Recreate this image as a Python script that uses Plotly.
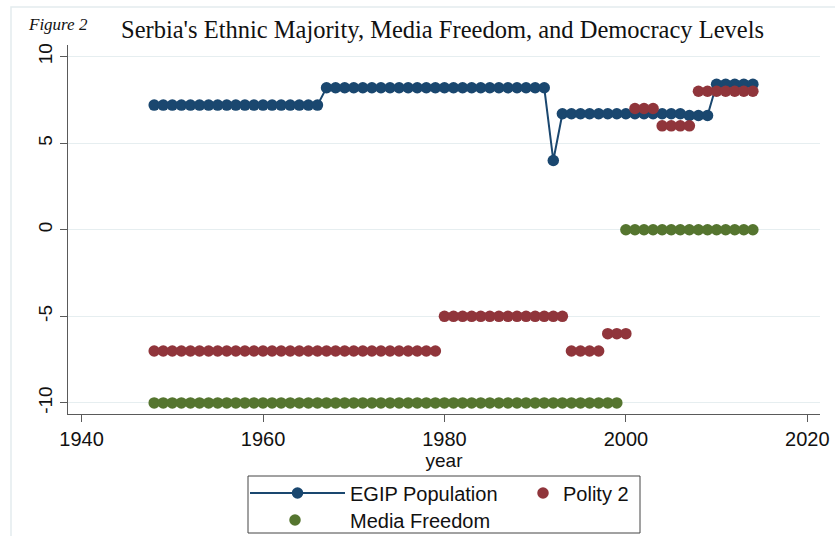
import plotly.graph_objects as go

# ---- data ----
years = [1948, 1949, 1950, 1951, 1952, 1953, 1954, 1955, 1956, 1957,
         1958, 1959, 1960, 1961, 1962, 1963, 1964, 1965, 1966, 1967,
         1968, 1969, 1970, 1971, 1972, 1973, 1974, 1975, 1976, 1977,
         1978, 1979, 1980, 1981, 1982, 1983, 1984, 1985, 1986, 1987,
         1988, 1989, 1990, 1991, 1992, 1993, 1994, 1995, 1996, 1997,
         1998, 1999, 2000, 2001, 2002, 2003, 2004, 2005, 2006, 2007,
         2008, 2009, 2010, 2011, 2012, 2013, 2014]

egip_population = [7.2, 7.2, 7.2, 7.2, 7.2, 7.2, 7.2, 7.2, 7.2, 7.2,
                   7.2, 7.2, 7.2, 7.2, 7.2, 7.2, 7.2, 7.2, 7.2, 8.2,
                   8.2, 8.2, 8.2, 8.2, 8.2, 8.2, 8.2, 8.2, 8.2, 8.2,
                   8.2, 8.2, 8.2, 8.2, 8.2, 8.2, 8.2, 8.2, 8.2, 8.2,
                   8.2, 8.2, 8.2, 8.2, 4.0, 6.7, 6.7, 6.7, 6.7, 6.7,
                   6.7, 6.7, 6.7, 6.7, 6.7, 6.7, 6.7, 6.7, 6.7, 6.6,
                   6.6, 6.6, 8.4, 8.4, 8.4, 8.4, 8.4]

polity2 = [-7, -7, -7, -7, -7, -7, -7, -7, -7, -7,
           -7, -7, -7, -7, -7, -7, -7, -7, -7, -7,
           -7, -7, -7, -7, -7, -7, -7, -7, -7, -7,
           -7, -7, -5, -5, -5, -5, -5, -5, -5, -5,
           -5, -5, -5, -5, -5, -5, -7, -7, -7, -7,
           -6, -6, -6, 7, 7, 7, 6, 6, 6, 6,
           8, 8, 8, 8, 8, 8, 8]

media_freedom = [-10, -10, -10, -10, -10, -10, -10, -10, -10, -10,
                 -10, -10, -10, -10, -10, -10, -10, -10, -10, -10,
                 -10, -10, -10, -10, -10, -10, -10, -10, -10, -10,
                 -10, -10, -10, -10, -10, -10, -10, -10, -10, -10,
                 -10, -10, -10, -10, -10, -10, -10, -10, -10, -10,
                 -10, -10, 0, 0, 0, 0, 0, 0, 0, 0,
                 0, 0, 0, 0, 0, 0, 0]

x_ticks = [1940, 1960, 1980, 2000, 2020]
y_ticks = [-10, -5, 0, 5, 10]
y_tick_labels = ["-10", "-5", "0", "5", "10"]

title_text = "Serbia's Ethnic Majority, Media Freedom, and Democracy Levels"
figure_label = "Figure 2"

# ---- styles ----
NAVY = "#1a476f"
MAROON = "#90353b"
GREEN = "#55752f"
SANS = "Liberation Sans, Arial, sans-serif"
SERIF = "Liberation Serif, Times New Roman, serif"

W, H = 835, 536
L, R, T, B = 68, 15, 45, 122
PW = W - L - R
PH = H - T - B


def px_x(p):
    return (p - L) / PW


def px_y(p):
    return (H - B - p) / PH


fig = go.Figure()

fig.add_trace(go.Scatter(
    x=years, y=egip_population, mode="lines+markers", name="EGIP Population",
    line=dict(color=NAVY, width=2), marker=dict(color=NAVY, size=11.5),
    legend="legend"))
fig.add_trace(go.Scatter(
    x=years, y=polity2, mode="markers", name="Polity 2",
    marker=dict(color=MAROON, size=11.5), legend="legend2"))
fig.add_trace(go.Scatter(
    x=years, y=media_freedom, mode="markers", name="Media Freedom",
    marker=dict(color=GREEN, size=11.5), legend="legend3"))

leg_common = dict(orientation="h", bgcolor="rgba(0,0,0,0)", borderwidth=0,
                  font=dict(family=SANS, size=20, color="#111111"),
                  xanchor="left", yanchor="middle")

fig.update_layout(
    width=W, height=H,
    margin=dict(l=L, r=R, t=T, b=B, autoexpand=False),
    paper_bgcolor="white", plot_bgcolor="white",
    showlegend=True,
    legend=dict(x=px_x(245), y=px_y(493), itemwidth=95, **leg_common),
    legend2=dict(x=px_x(523), y=px_y(493), itemwidth=30, **leg_common),
    legend3=dict(x=px_x(240), y=px_y(520), itemwidth=100, **leg_common),
    xaxis=dict(
        range=[1938.5, 2021.4], tickmode="array", tickvals=x_ticks,
        showgrid=False, zeroline=False, showline=True, linecolor="#5a5a5a",
        linewidth=1.3, ticks="outside", ticklen=7, tickcolor="#5a5a5a",
        tickfont=dict(family=SANS, size=20, color="#111111"),
        title=dict(text="year", font=dict(family=SANS, size=19, color="#111111"),
                   standoff=0),
    ),
    yaxis=dict(
        range=[-10.64, 10.67], tickmode="array", tickvals=y_ticks,
        ticktext=y_tick_labels,
        showgrid=True, gridcolor="#e6eef0", gridwidth=1, zeroline=False,
        showline=True, linecolor="#5a5a5a", linewidth=1.3,
        ticks="outside", ticklen=7, tickcolor="#5a5a5a", tickangle=-90,
        tickfont=dict(family=SANS, size=19, color="#111111"),
    ),
    annotations=[
        dict(text=title_text, xref="paper", yref="paper", x=px_x(442), y=px_y(30),
             xanchor="center", yanchor="middle", showarrow=False,
             font=dict(family=SERIF, size=24.5, color="#111111")),
        dict(text="<i>" + figure_label + "</i>", xref="paper", yref="paper",
             x=px_x(26), y=px_y(24), xanchor="left", yanchor="middle",
             showarrow=False, font=dict(family=SERIF, size=17, color="#111111")),
    ],
    shapes=[
        # outer light frame of the graph region
        dict(type="rect", xref="paper", yref="paper",
             x0=px_x(11), x1=px_x(845), y0=px_y(545), y1=px_y(7),
             line=dict(color="#e3ecee", width=1.5), layer="below"),
        # legend frame
        dict(type="rect", xref="paper", yref="paper",
             x0=px_x(248), x1=px_x(640), y0=px_y(533), y1=px_y(476),
             line=dict(color="#444444", width=1)),
    ],
)

fig.write_html("out.html")
